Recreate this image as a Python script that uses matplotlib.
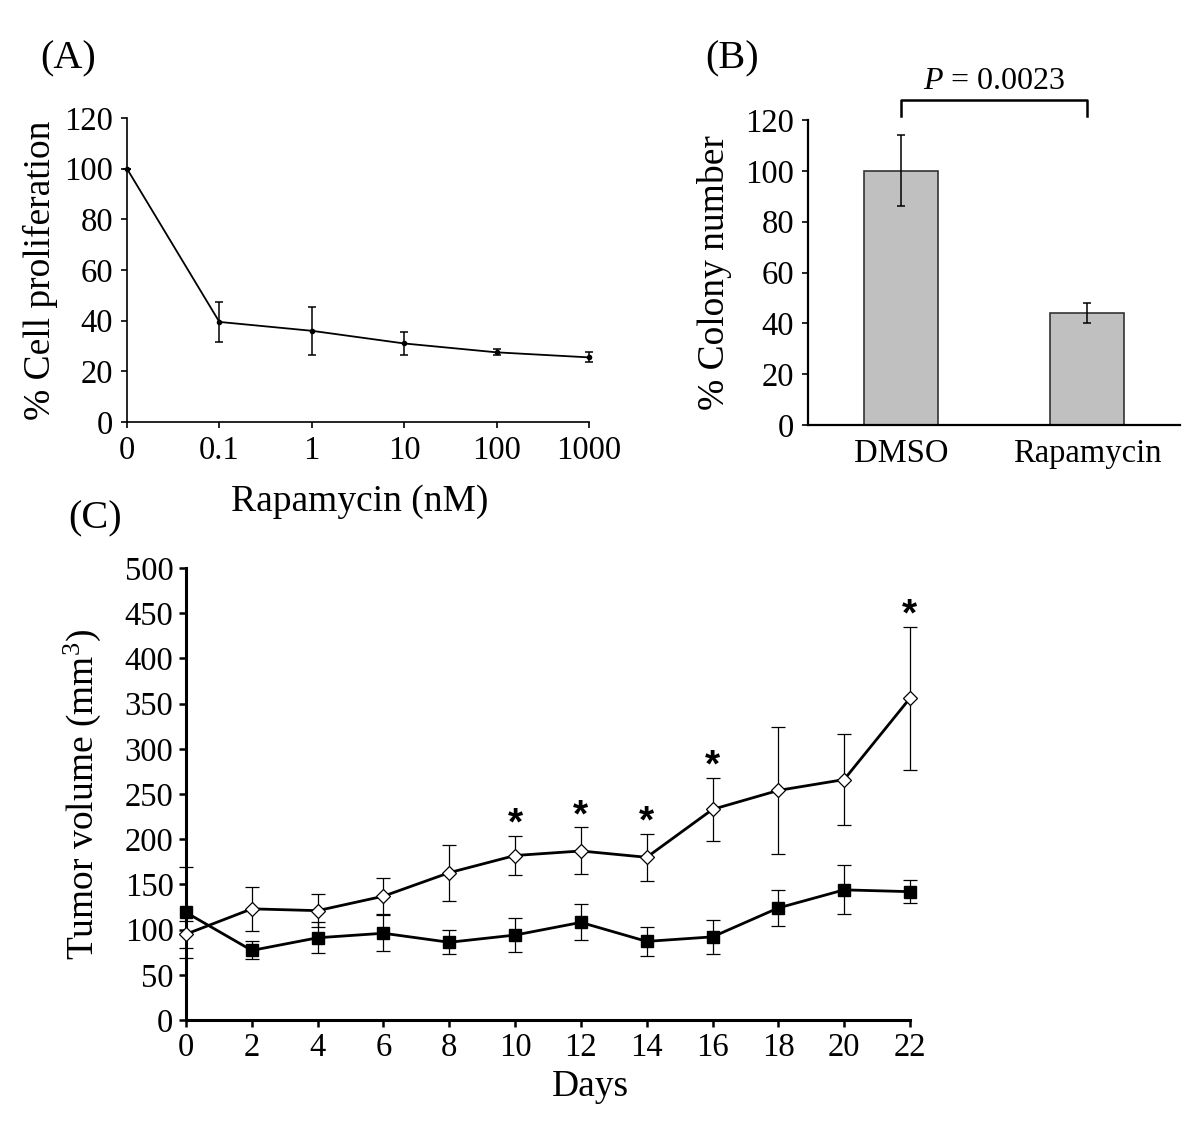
import matplotlib
matplotlib.use("Agg")
import matplotlib.pyplot as plt

plt.rcParams['font.family'] = ['Liberation Serif', 'DejaVu Serif']
plt.rcParams['mathtext.fontset'] = 'custom'
plt.rcParams['mathtext.rm'] = 'Liberation Serif'
plt.rcParams['mathtext.it'] = 'Liberation Serif:italic'

# panel A - dose response
dose_labels = ['0', '0.1', '1', '10', '100', '1000']
prolif = [100, 39.5, 36, 31, 27.5, 25.5]
prolif_err = [0, 8, 9.5, 4.5, 1.2, 2]

# panel B - colony number
groups = ['DMSO', 'Rapamycin']
colony = [100, 44]
colony_err = [14, 4]
p_text = '$\\it{P}$ = 0.0023'

# panel C - tumor volume
days = [0, 2, 4, 6, 8, 10, 12, 14, 16, 18, 20, 22]
control = [95, 123, 121, 137, 163, 182, 187, 180, 233, 254, 266, 356]
control_err = [15, 24, 18, 20, 31, 22, 26, 26, 35, 70, 50, 79]
rapa = [119, 77, 91, 96, 86, 94, 108, 87, 92, 124, 144, 142]
rapa_err = [50, 10, 17, 20, 13.5, 19, 20, 16, 18.5, 20, 27, 12.5]
star_days = [10, 12, 14, 16, 22]

fig = plt.figure(figsize=(12, 11.25), dpi=100)

# ---- (A)
axA = fig.add_axes([0.1058, 0.6249, 0.385, 0.2702])
xa = list(range(len(dose_labels)))
axA.errorbar(xa, prolif, yerr=prolif_err, color='black', lw=1.3, marker='o', ms=3,
             elinewidth=1.1, capsize=3, capthick=1.1, clip_on=False)
axA.set_xlim(0, 5)
axA.set_ylim(0, 120)
axA.set_yticks(range(0, 121, 20))
axA.set_xticks(xa)
axA.set_xticklabels(dose_labels)
axA.set_xlabel('Rapamycin (nM)', fontsize=27, va='center')
axA.xaxis.set_label_coords(0.504, -0.262)
axA.set_ylabel('% Cell proliferation', fontsize=27, va='center')
axA.yaxis.set_label_coords(-0.188, 0.5)
for s in ['top', 'right']:
    axA.spines[s].set_visible(False)
for s in ['left', 'bottom']:
    axA.spines[s].set_linewidth(1.2)
axA.tick_params(labelsize=23.5, direction='out', length=4, width=1.2, pad=6)
fig.text(40 / 1200, 1 - 40 / 1125, '(A)', fontsize=29, va='top')

# ---- (B)
axB = fig.add_axes([0.6733, 0.6222, 0.31, 0.2711])
xb = [0, 1]
axB.bar(xb, colony, width=0.4, color='#c0c0c0', edgecolor='#333333', lw=1.2)
axB.errorbar(xb, colony, yerr=colony_err, fmt='none', ecolor='black',
             elinewidth=1.1, capsize=3, capthick=1.1)
axB.set_xlim(-0.5, 1.5)
axB.set_ylim(0, 120)
axB.set_yticks(range(0, 121, 20))
axB.set_xticks(xb)
axB.set_xticklabels(groups)
axB.set_ylabel('% Colony number', fontsize=27, va='center')
axB.yaxis.set_label_coords(-0.25, 0.5)
for s in ['top', 'right']:
    axB.spines[s].set_visible(False)
for s in ['left', 'bottom']:
    axB.spines[s].set_linewidth(1.6)
axB.tick_params(axis='y', labelsize=23.5, direction='out', length=4, width=1.2, pad=6)
axB.tick_params(axis='x', labelsize=23.5, length=0, pad=10)
# significance bracket
axB.plot([0, 0, 1, 1], [121.5, 128, 128, 121.5], color='black', lw=1.8, clip_on=False)
axB.text(0.5, 135, p_text, ha='center', va='center', fontsize=23)
fig.text(705 / 1200, 1 - 40 / 1125, '(B)', fontsize=29, va='top')

# ---- (C)
axC = fig.add_axes([0.155, 0.0933, 0.6033, 0.4018])
axC.errorbar(days, control, yerr=control_err, color='black', lw=2.0, marker='D', ms=7,
             mfc='white', mec='black', mew=0.9, ecolor='black', elinewidth=0.9,
             capsize=5, capthick=0.9, zorder=3, clip_on=False)
axC.errorbar(days, rapa, yerr=rapa_err, color='black', lw=2.0, marker='s', ms=9,
             mfc='black', mec='black', ecolor='black', elinewidth=0.9,
             capsize=5, capthick=0.9, zorder=3, clip_on=False)
for d in star_days:
    i = days.index(d)
    axC.text(d, control[i] + control_err[i] + 1, '*', ha='center', va='baseline',
             fontsize=28, fontweight='bold', family='Liberation Sans')
axC.set_xlim(0, 22)
axC.set_ylim(0, 500)
axC.set_xticks(days)
axC.set_yticks(range(0, 501, 50))
axC.set_xlabel('Days', fontsize=27, va='center')
axC.xaxis.set_label_coords(0.558, -0.148)
axC.set_ylabel('Tumor volume (mm$^3$)', fontsize=27, va='center')
axC.yaxis.set_label_coords(-0.1436, 0.5)
for s in ['top', 'right']:
    axC.spines[s].set_visible(False)
for s in ['left', 'bottom']:
    axC.spines[s].set_linewidth(2.2)
axC.tick_params(labelsize=23.5, direction='out', length=5, width=1.8, pad=4)
fig.text(68 / 1200, 1 - 500 / 1125, '(C)', fontsize=29, va='top')

fig.savefig('out.png', dpi=100)
